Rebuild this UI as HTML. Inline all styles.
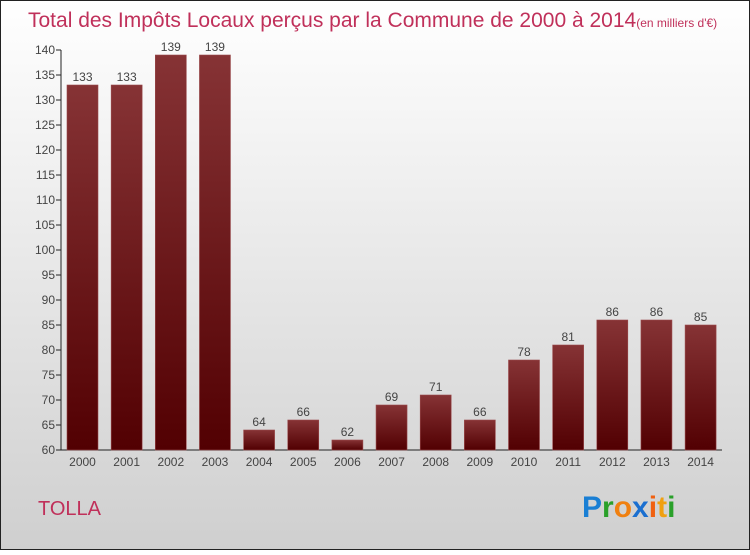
<!DOCTYPE html>
<html><head><meta charset="utf-8"><style>
body{margin:0}
svg text{font-family:"Liberation Sans",sans-serif}
</style></head><body>
<svg id="c" width="750" height="550" viewBox="0 0 750 550" xmlns="http://www.w3.org/2000/svg">
<defs>
<linearGradient id="bg" x1="0" y1="0" x2="0" y2="1"><stop offset="0" stop-color="#ffffff"/><stop offset="1" stop-color="#cfcfcf"/></linearGradient>
<linearGradient id="bar" x1="0" y1="0" x2="0" y2="1"><stop offset="0" stop-color="#863335"/><stop offset="1" stop-color="#520002"/></linearGradient>
</defs>
<rect x="0.5" y="0.5" width="749" height="549" fill="url(#bg)" stroke="#222"/>
<text x="28" y="27" font-size="21" fill="#c0305a">Total des Impôts Locaux perçus par la Commune de 2000 à 2014<tspan font-size="12">(en milliers d'€)</tspan></text>
<text x="38" y="515" font-size="20" fill="#c0305a">TOLLA</text>
<g font-size="30" font-weight="bold">
<text x="582" y="517"><tspan fill="#1a7fd4">P</tspan><tspan fill="#2aa02a">r</tspan><tspan fill="#f08010">o</tspan><tspan fill="#1a6fd0">x</tspan><tspan fill="#f06010">i</tspan><tspan fill="#f0a010">t</tspan><tspan fill="#2aa02a">i</tspan></text>
</g>
<g id="plot"></g>
</svg>
<script>
const years=["2000","2001","2002","2003","2004","2005","2006","2007","2008","2009","2010","2011","2012","2013","2014"];
const values=[133,133,139,139,64,66,62,69,71,66,78,81,86,86,85];
const yTicks=[60,65,70,75,80,85,90,95,100,105,110,115,120,125,130,135,140];
const NS="http://www.w3.org/2000/svg";
const g=document.getElementById('plot');
const y0=450,y1=50,vmin=60,vmax=140;
const yS=v=>y0-(v-vmin)/(vmax-vmin)*(y0-y1);
const xS=i=>82.5+i*44.15;
function mk(t,a,txt){const e=document.createElementNS(NS,t);for(const k in a)e.setAttribute(k,a[k]);if(txt!=null)e.textContent=txt;g.appendChild(e);return e;}
let e;
e=mk('line',{x1:61,y1:y1,x2:61,y2:y0,stroke:'#222'});


e=mk('line',{x1:61,y1:y0,x2:722,y2:y0,stroke:'#222'});


yTicks.forEach(v=>{
 e=mk('line',{x1:56,y1:yS(v),x2:61,y2:yS(v),stroke:'#222'});
 
 
 e=mk('text',{x:55,y:yS(v)+4,'font-size':12,fill:'#444','text-anchor':'end'},v);
 
 
});
values.forEach((v,i)=>{
 const cx=xS(i);
 e=mk('rect',{x:cx-15.5,y:yS(v),width:31,height:y0-yS(v),fill:'url(#bar)',stroke:'#9a4a4c','stroke-width':0.6});
 
 
 e=mk('text',{x:cx,y:yS(v)-4,'font-size':12,fill:'#444','text-anchor':'middle'},v);
 
 
 e=mk('text',{x:cx,y:466,'font-size':12,fill:'#444','text-anchor':'middle'},years[i]);
 
 
});
</script>
</body></html>
